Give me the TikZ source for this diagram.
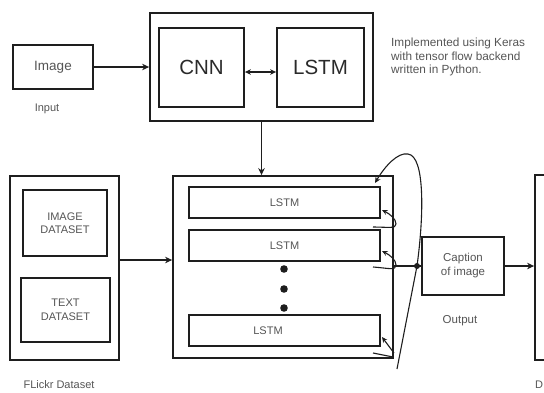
\documentclass[tikz,border=0pt]{standalone}
\usepackage{fontspec}
\setmainfont{Liberation Sans}
\usetikzlibrary{arrows.meta,calc}
\definecolor{ink}{HTML}{1E1E1E}
\definecolor{txt}{HTML}{555555}
\definecolor{bigtxt}{HTML}{2A2A2A}
\tikzset{
  box/.style={draw=ink, line width=1.8pt, rectangle, inner sep=0pt, fill=white},
  smalltxt/.style={text=txt, font=\fontsize{11}{13.5}\selectfont, align=center, inner sep=0pt},
  notetxt/.style={text=txt, font=\fontsize{11.8}{13.5}\selectfont, align=left, inner sep=0pt},
  bigtext/.style={text=bigtxt, font=\fontsize{20.5}{24}\selectfont},
  conn/.style={draw=ink, line width=1.8pt},
  tip/.style={-{Stealth[length=7pt,width=6.5pt]}},
  thin/.style={draw=ink, line width=1.1pt},
}
\begin{document}
\begin{tikzpicture}[x=1pt,y=-1pt]
\useasboundingbox (0,0) rectangle (544,392);
% top part
\node[box, minimum width=80, minimum height=44, text=txt, font=\fontsize{13.5}{15}\selectfont] (img) at (53,67) {Image};
\node[smalltxt] (inlbl) at (47,109) {Input};
\node[box, minimum width=223, minimum height=108] (top) at (261.5,67) {};
\node[box, minimum width=85, minimum height=79, bigtext] (cnn) at (201.5,67.5) {CNN};
\node[box, minimum width=87, minimum height=79, bigtext] (lstmT) at (320.5,67.5) {LSTM};
\draw[conn, tip] (img.east) -- (top.west |- img.east);
\draw[conn, line width=1.5pt, {Stealth[length=6pt,width=5.5pt]}-{Stealth[length=6pt,width=5.5pt]}] ([yshift=-4.5pt]cnn.east) -- ([yshift=-4.5pt]lstmT.west);
\node[notetxt, anchor=north west] (note) at (391,38) {Implemented using Keras\\with tensor flow backend\\written in Python.};
% middle box
\node[box, minimum width=220, minimum height=182] (mid) at (283,267) {};
\draw[conn, tip] (top.south) -- (top.south |- mid.north);
\node[box, minimum width=191, minimum height=31, smalltxt] (l1) at (284.5,202.5) {LSTM};
\node[box, minimum width=191, minimum height=31, smalltxt] (l2) at (284.5,245.5) {LSTM};
\node[box, minimum width=191, minimum height=31] (l3) at (284.5,330.5) {};
\node[smalltxt] (l3t) at (268,330.5) {LSTM};
\fill[ink] (284,269) circle (3.8) (284,289) circle (3.8) (284,308) circle (3.8);
% flickr
\node[box, minimum width=109, minimum height=184] (flickr) at (64.5,268) {};
\node[box, minimum width=84, minimum height=66, smalltxt] (imgds) at (65,223) {IMAGE\\DATASET};
\node[box, minimum width=89, minimum height=64, smalltxt] (txtds) at (65.5,310) {TEXT\\DATASET};
\node[smalltxt] (flbl) at (59,385) {FLickr Dataset};
\draw[conn, tip] ([yshift=8pt]flickr.east) -- ([yshift=8pt]flickr.east -| mid.west);
% caption
\node[box, minimum width=82, minimum height=58, smalltxt, font=\fontsize{11.5}{14}\selectfont] (cap) at (463,266) {Caption\\of image};
\node[smalltxt, font=\fontsize{11.5}{14}\selectfont] (outlbl) at (460,321) {Output};
\node[box, minimum width=40, minimum height=185] (rbox) at (555,267.5) {};
\node[smalltxt, anchor=west] (dlbl) at (535,385) {D};
\draw[conn] (mid.east |- cap.west) -- (cap.west);
\draw[conn, tip] (cap.east) -- (cap.east -| rbox.west);
% recurrent loop
\coordinate (lpstart) at (397,369);
\coordinate (lpx) at (417,266);
\coordinate (lptop) at (408,154);
\coordinate (lpend) at (375,183);
\fill[ink] (lpx) circle (3);
\draw[thin, -{Stealth[length=6pt,width=5.5pt]}] (lpstart) -- (lpx) .. controls (424,215) and (425,156) .. (lptop) .. controls (398,152) and (385,166) .. (lpend);
% small hooks
\coordinate (h1a) at (373,227);
\coordinate (h1t) at (382,210);
\draw[thin] (h1a) .. controls (388,227) and (396,229) .. (396,224);
\draw[thin, -{Stealth[length=5.5pt,width=5pt]}] (396,224) .. controls (396,219) and (390,214) .. (h1t);
\coordinate (h2a) at (373,267);
\coordinate (h2t) at (382,251);
\draw[thin] (h2a) .. controls (388,268) and (396,271) .. (396,265);
\draw[thin, -{Stealth[length=5.5pt,width=5pt]}] (396,265) .. controls (396,260) and (390,255) .. (h2t);
\coordinate (h3a) at (394,353);
\coordinate (h3t) at (382,337);
\draw[thin, -{Stealth[length=5.5pt,width=5pt]}] (h3a) -- (h3t);
\draw[thin] (373,353) -- (393,357);
\end{tikzpicture}
\end{document}
